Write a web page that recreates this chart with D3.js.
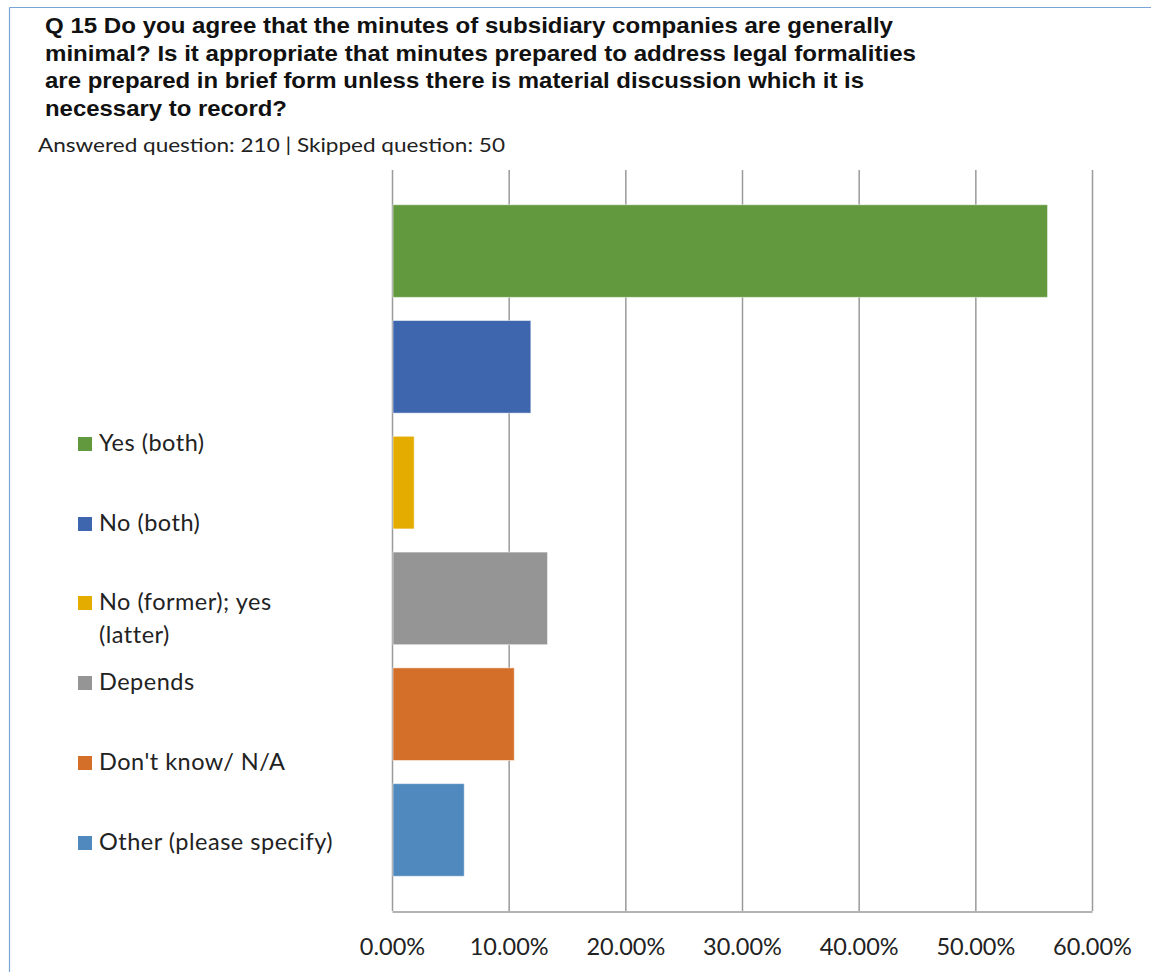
<!DOCTYPE html>
<html>
<head>
<meta charset="utf-8">
<script src="https://cdn.jsdelivr.net/npm/d3@7"></script>
<style>
  html, body { margin: 0; padding: 0; background: #fff; }
  svg { display: block; }
</style>
</head>
<body>
<svg id="chart" width="1151" height="972"></svg>
<script>
const titleLines = [
  "Q 15 Do you agree that the minutes of subsidiary companies are generally",
  "minimal? Is it appropriate that minutes prepared to address legal formalities",
  "are prepared in brief form unless there is material discussion which it is",
  "necessary to record?"
];
const subtitle = "Answered question: 210 | Skipped question: 50";
const categories = ["Yes (both)", "No (both)", "No (former); yes (latter)", "Depends", "Don't know/ N/A", "Other (please specify)"];
const legendLines = [["Yes (both)"], ["No (both)"], ["No (former); yes", "(latter)"], ["Depends"], ["Don't know/ N/A"], ["Other (please specify)"]];
const values = [0.5619, 0.1190, 0.0190, 0.1333, 0.1048, 0.0619];
const colors = ["#62993e", "#3d66ae", "#e5ac00", "#959595", "#d46f2a", "#4f89bd"];
const ticks = [0, 0.1, 0.2, 0.3, 0.4, 0.5, 0.6];

const svg = d3.select("#chart");
const sans = "Lato, 'Open Sans', sans-serif";

// frame
svg.append("line").attr("x1", 9.5).attr("x2", 1151).attr("y1", 7.5).attr("y2", 7.5)
  .attr("stroke", "#7aa3d6").attr("stroke-width", 1.2);
svg.append("line").attr("x1", 9.5).attr("x2", 9.5).attr("y1", 7.5).attr("y2", 972)
  .attr("stroke", "#7aa3d6").attr("stroke-width", 1.2);

// title
const titleWidths = [848, 871, 819, 242];
titleLines.forEach((t, i) => {
  svg.append("text").attr("x", 45).attr("y", 33 + i * 27.5)
    .attr("font-family", "'Liberation Sans', Arial, sans-serif")
    .attr("font-weight", "bold").attr("font-size", 21.5).attr("fill", "#111")
    .attr("textLength", titleWidths[i]).attr("lengthAdjust", "spacingAndGlyphs")
    .text(t);
});
svg.append("text").attr("x", 38).attr("y", 152)
  .attr("font-family", sans).attr("font-size", 19.5).attr("fill", "#222")
  .attr("textLength", 467).attr("lengthAdjust", "spacingAndGlyphs")
  .text(subtitle);

// scales
const x = d3.scaleLinear().domain([0, 0.6]).range([392, 1092]);
const y = d3.scaleBand().domain(categories).range([170, 911]).paddingInner(0.2).paddingOuter(0.3);

// gridlines
svg.append("g").selectAll("line").data(ticks).join("line")
  .attr("x1", d => x(d) + 0.5).attr("x2", d => x(d) + 0.5)
  .attr("y1", 170).attr("y2", 911)
  .attr("stroke", "#9a9a9a").attr("stroke-width", 1.5);

// bars
svg.append("g").selectAll("rect").data(categories).join("rect")
  .attr("x", x(0) + 1)
  .attr("y", d => y(d))
  .attr("width", (d, i) => x(values[i]) - x(0) - 1)
  .attr("height", y.bandwidth())
  .attr("fill", (d, i) => colors[i])
  .attr("stroke", "#ffffff").attr("stroke-opacity", 0.5).attr("stroke-width", 1);

// x axis
const xAxis = d3.axisBottom(x).tickValues(ticks).tickFormat(d3.format(".2%")).tickSize(0).tickPadding(0);
const ax = svg.append("g").attr("transform", "translate(0,911.5)").call(xAxis);
ax.select(".domain").attr("stroke", "#9a9a9a").attr("stroke-width", 1.5);
ax.selectAll("text").attr("font-family", sans).attr("font-size", 23.5).attr("fill", "#222")
  .attr("dy", null).attr("y", 43);

// legend
const leg = svg.append("g");
const legY = [451, 531, 610, 690, 770, 850];
legendLines.forEach((lines, i) => {
  leg.append("rect").attr("x", 78).attr("y", legY[i] - 14).attr("width", 14).attr("height", 14)
    .attr("fill", colors[i]);
  lines.forEach((l, j) => {
    leg.append("text").attr("x", 99).attr("y", legY[i] + j * 33)
      .attr("font-family", sans).attr("font-size", 23.5).attr("letter-spacing", 0.5)
      .attr("fill", "#222").text(l);
  });
});
</script>
</body>
</html>
